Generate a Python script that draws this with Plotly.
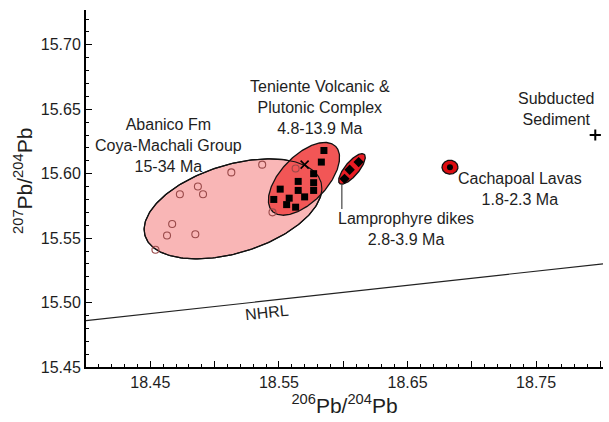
import numpy as np
import plotly.graph_objects as go

# ---- sample data: 206Pb/204Pb (x) and 207Pb/204Pb (y) ----
abanico_x = [18.537, 18.513, 18.563, 18.487, 18.473, 18.491, 18.545, 18.467, 18.463, 18.485, 18.454]
abanico_y = [15.607, 15.601, 15.604, 15.590, 15.584, 15.584, 15.570, 15.561, 15.552, 15.553, 15.541]

teniente_x = [18.585, 18.583, 18.577, 18.565, 18.577, 18.565, 18.577, 18.551, 18.570, 18.546, 18.558, 18.556, 18.563]
teniente_y = [15.618, 15.609, 15.600, 15.594, 15.593, 15.587, 15.587, 15.588, 15.582, 15.580, 15.581, 15.576, 15.574]

teniente_extra_x = [18.570]
teniente_extra_y = [15.607]

lamprophyre_x = [18.601, 18.605, 18.612]
lamprophyre_y = [15.596, 15.603, 15.609]

cachapoal_x = [18.683]
cachapoal_y = [15.605]

sediment_x = [18.796]
sediment_y = [15.630]

# Northern Hemisphere Reference Line end points
nhrl_x = [18.40, 18.802]
nhrl_y = [15.486, 15.530]

# ---- compositional fields (ellipses): centre, semi-axes, rotation in degrees ----
field_cx = [18.5143, 18.5695, 18.6068, 18.683]
field_cy = [15.5727, 15.5960, 15.6037, 15.605]
field_a = [0.0715, 0.0352, 0.0148, 0.0062]
field_b = [0.0342, 0.0180, 0.0054, 0.0054]
field_rot = [17, 46, 50, 0]
field_fill = ["#f9b6b6", "#f25656", "#ea1c24", "#dc0c10"]

FONT = "Arial, Liberation Sans, Helvetica, sans-serif"
TXT = "#1e1e1e"


def ellipse(i, n=240):
    t = np.linspace(0, 2 * np.pi, n)
    th = np.radians(field_rot[i])
    a, b = field_a[i], field_b[i]
    x = field_cx[i] + a * np.cos(t) * np.cos(th) - b * np.sin(t) * np.sin(th)
    y = field_cy[i] + a * np.cos(t) * np.sin(th) + b * np.sin(t) * np.cos(th)
    return x, y


fig = go.Figure()

# NHRL
fig.add_trace(go.Scatter(x=nhrl_x, y=nhrl_y, mode="lines",
                         line=dict(color="#222", width=1.1), hoverinfo="skip"))

# filled fields
for i in range(4):
    ex, ey = ellipse(i)
    fig.add_trace(go.Scatter(x=ex, y=ey, mode="lines", fill="toself",
                             fillcolor=field_fill[i],
                             line=dict(color="#111", width=1.3), hoverinfo="skip"))

# outline of the Abanico field drawn again over the Teniente field
ex, ey = ellipse(0)
fig.add_trace(go.Scatter(x=ex, y=ey, mode="lines",
                         line=dict(color="#111", width=1.1), hoverinfo="skip"))

# leader from the lamprophyre field down to its label
lx, ly = ellipse(2)
k = int(np.argmin(ly))
fig.add_trace(go.Scatter(x=[lx[k], lx[k]], y=[ly[k], 15.5725], mode="lines",
                         line=dict(color="#333", width=1.1), hoverinfo="skip"))

fig.add_trace(go.Scatter(x=abanico_x, y=abanico_y, mode="markers",
                         marker=dict(symbol="circle-open", size=7, color="#9a4a4a",
                                     line=dict(width=1.1, color="#9a4a4a"))))
fig.add_trace(go.Scatter(x=teniente_x, y=teniente_y, mode="markers",
                         marker=dict(symbol="square", size=7, color="black")))
fig.add_trace(go.Scatter(x=teniente_extra_x, y=teniente_extra_y, mode="markers",
                         marker=dict(symbol="x-thin-open", size=8, color="black",
                                     line=dict(width=1.6, color="black"))))
fig.add_trace(go.Scatter(x=lamprophyre_x, y=lamprophyre_y, mode="markers",
                         marker=dict(symbol="diamond", size=8, color="black")))
fig.add_trace(go.Scatter(x=cachapoal_x, y=cachapoal_y, mode="markers",
                         marker=dict(symbol="circle", size=6, color="black")))
fig.add_trace(go.Scatter(x=sediment_x, y=sediment_y, mode="markers",
                         marker=dict(symbol="cross-thin-open", size=8, color="black",
                                     line=dict(width=2, color="black"))))

labels = [
    (18.4638, 15.6216, "Abanico Fm<br>Coya-Machali Group<br>15-34 Ma", 0),
    (18.582, 15.651, "Teniente Volcanic &amp;<br>Plutonic Complex<br>4.8-13.9 Ma", 0),
    (18.6488, 15.5572, "Lamprophyre dikes<br>2.8-3.9 Ma", 0),
    (18.7375, 15.588, "Cachapoal Lavas<br>1.8-2.3 Ma", 0),
    (18.7655, 15.650, "Subducted<br>Sediment", 0),
    (18.5405, 15.492, "NHRL", -6),
]
for x, y, t, ang in labels:
    fig.add_annotation(x=x, y=y, text=t, showarrow=False, textangle=ang,
                       xanchor="center", yanchor="middle",
                       font=dict(family=FONT, size=16, color=TXT))

# y-axis title
fig.add_annotation(xref="paper", yref="paper", x=-0.122, y=0.521,
                   text="<sup>207</sup>Pb/<sup>204</sup>Pb", textangle=-90,
                   showarrow=False, xanchor="center", yanchor="middle",
                   font=dict(family=FONT, size=21, color=TXT))

x_major = [18.40, 18.45, 18.50, 18.55, 18.60, 18.65, 18.70, 18.75, 18.80]
x_text = ["", "18.45", "", "18.55", "", "18.65", "", "18.75", ""]

fig.update_layout(
    width=609, height=422,
    margin=dict(l=86, r=6, t=10, b=55),
    paper_bgcolor="white", plot_bgcolor="white",
    showlegend=False,
    font=dict(family=FONT, size=16, color=TXT),
    xaxis=dict(range=[18.40, 18.802], showgrid=False, zeroline=False,
               showline=True, linecolor="black", linewidth=2,
               tickmode="array", tickvals=x_major, ticktext=x_text,
               ticks="inside", ticklen=6, tickwidth=1, tickcolor="black",
               minor=dict(tickmode="linear", tick0=18.40, dtick=0.01,
                          ticks="inside", ticklen=3, tickcolor="black"),
               tickfont=dict(size=16, color=TXT),
               title=dict(text="<sup>206</sup>Pb/<sup>204</sup>Pb",
                          font=dict(size=21, color=TXT), standoff=3)),
    yaxis=dict(range=[15.45, 15.727], showgrid=False, zeroline=False,
               showline=True, linecolor="black", linewidth=2,
               tickmode="linear", tick0=15.45, dtick=0.05, tickformat=".2f",
               ticks="inside", ticklen=6, tickwidth=1, tickcolor="black",
               minor=dict(tickmode="linear", tick0=15.45, dtick=0.01,
                          ticks="inside", ticklen=3, tickcolor="black"),
               tickfont=dict(size=16, color=TXT)),
)

fig.write_html("out.html")
